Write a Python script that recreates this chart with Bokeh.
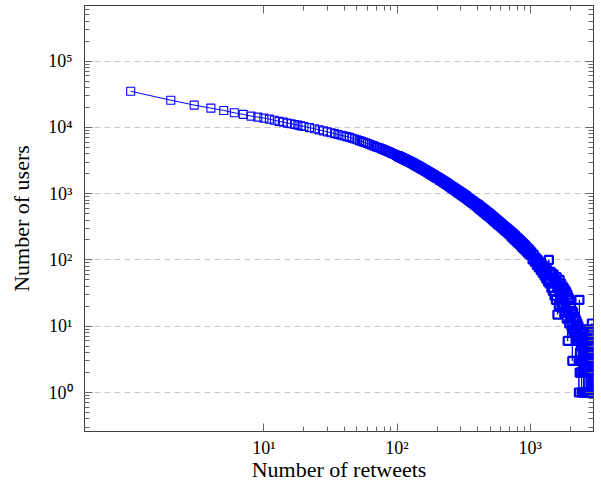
from bokeh.plotting import figure
from bokeh.models import FixedTicker, LogAxis, Range1d
from bokeh.embed import file_html
from bokeh.resources import INLINE

# ---- data (retweet count -> number of users) ----
retweets_head = [1, 2, 3, 4, 5, 6, 7, 8, 9, 10, 11, 12, 13, 14, 15, 16, 17, 18, 19, 20]
users_head = [35100, 25700, 21700, 19500, 18000, 16600, 15700, 14800, 14300, 13800,
              13300, 12800, 12300, 12000, 11600, 11350, 11070, 10800, 10540, 10330]

retweets_mid = list(range(22, 101, 2))
users_mid = [9910, 9530, 9160, 8850, 8550, 8280, 8040, 7820, 7620, 7430,
             7260, 7060, 6850, 6670, 6490, 6310, 6150, 6000, 5850, 5700,
             5560, 5420, 5300, 5180, 5070, 4980, 4890, 4780, 4680, 4570,
             4480, 4390, 4300, 4210, 4125, 4040, 3965, 3890, 3820, 3750]

retweets_b1 = list(range(102, 201, 2))
users_b1 = [3690, 3600, 3555, 3465, 3430, 3340, 3310, 3230, 3205, 3125,
            3105, 3035, 3005, 2930, 2900, 2830, 2805, 2730, 2715, 2640,
            2630, 2560, 2550, 2480, 2475, 2410, 2405, 2340, 2335, 2275,
            2270, 2205, 2205, 2140, 2140, 2085, 2085, 2025, 2025, 1970,
            1975, 1920, 1915, 1865, 1870, 1820, 1820, 1770, 1775, 1730]

retweets_b2 = list(range(204, 401, 4))
users_b2 = [1725, 1630, 1645, 1555, 1570, 1480, 1505, 1415, 1440, 1350,
            1375, 1290, 1315, 1235, 1260, 1180, 1210, 1135, 1160, 1090,
            1120, 1045, 1075, 1010, 1035, 970, 1000, 935, 965, 900,
            935, 870, 900, 840, 865, 810, 835, 780, 810, 755,
            780, 730, 760, 710, 735, 685, 710, 665, 690, 645]

retweets_b3 = list(range(406, 701, 6))
users_b3 = [675, 606, 642, 578, 614, 552, 589, 528, 565, 506,
            542, 484, 519, 466, 501, 448, 481, 430, 461, 413,
            444, 396, 426, 382, 411, 367, 396, 354, 381, 341,
            368, 331, 355, 320, 345, 308, 332, 298, 322, 289,
            311, 279, 302, 271, 292, 262, 284, 254, 275, 247]

retweets_b4 = list(range(710, 1001, 10))
users_b4 = [267, 229, 254, 216, 241, 206, 230, 197, 218, 187,
            209, 179, 200, 171, 190, 162, 181, 155, 174, 148,
            166, 142, 158, 136, 151, 129, 145, 124, 139, 120]

retweets_tail1 = [1020, 1040, 1060, 1080, 1100, 1120, 1140, 1160, 1180, 1200, 1220, 1240, 1260, 1280, 1300,
                  1320, 1340, 1360, 1380, 1400, 1420, 1440, 1460, 1480, 1500, 1520, 1540, 1560, 1580, 1600,
                  1620, 1640, 1660, 1680, 1700, 1720, 1740, 1760, 1780, 1800, 1820, 1840, 1860, 1880, 1900,
                  1910, 1920, 1940, 1960, 1980, 2000,
                  2020, 2040, 2060, 2070, 2080, 2100, 2120, 2140, 2160, 2180, 2200, 2220, 2240, 2260, 2280]
users_tail1 = [130, 102, 120, 94, 108, 84, 100, 77, 92, 70, 86, 64, 80, 58, 74,
               52, 70, 47, 100, 44, 66, 38, 62, 34, 60, 29, 47, 25, 55, 15,
               40, 21, 50, 26, 44, 19, 40, 22, 38, 16, 35, 19, 33, 13, 30,
               6, 16, 27, 11, 25, 14,
               20, 10, 17, 3, 9, 16, 8, 14, 9, 13, 7, 12, 6, 11, 7]

retweets_tail2 = list(range(2300, 2981, 10))
users_tail2 = [10, 3, 1, 6, 25, 2, 4, 7, 9, 2,
               5, 3, 8, 1, 3, 6, 9, 2, 4, 5,
               7, 1, 2, 4, 8, 2, 3, 1, 6, 2,
               2, 4, 7, 2, 1, 3, 5, 1, 2, 3,
               6, 2, 1, 2, 4, 1, 2, 3, 9, 2,
               1, 2, 3, 1, 2, 2, 7, 1, 1, 2,
               11, 2, 1, 3, 5, 2, 1, 2, 8]

# sparse (low retweet counts) and dense (high retweet counts) parts of the one series
retweets_sparse = retweets_head + retweets_mid
users_sparse = users_head + users_mid
retweets_dense = (retweets_b1 + retweets_b2 + retweets_b3 + retweets_b4 +
                  retweets_tail1 + retweets_tail2)
users_dense = users_b1 + users_b2 + users_b3 + users_b4 + users_tail1 + users_tail2
retweets = retweets_sparse + retweets_dense
users = users_sparse + users_dense

# ---- ticks ----
x_major_ticks = [10, 100, 1000]
x_major_labels = ["10\u00b9", "10\u00b2", "10\u00b3"]
x_minor_ticks = [20, 30, 40, 50, 60, 70, 80, 90, 200, 300, 400, 500, 600, 700, 800, 900, 2000]

y_major_ticks = [1, 10, 100, 1000, 10000, 100000]
y_major_labels = ["10\u2070", "10\u00b9", "10\u00b2", "10\u00b3", "10\u2074", "10\u2075"]
y_minor_ticks = [0.3, 0.4, 0.5, 0.6, 0.7, 0.8, 0.9,
                 2, 3, 4, 5, 6, 7, 8, 9,
                 20, 30, 40, 50, 60, 70, 80, 90,
                 200, 300, 400, 500, 600, 700, 800, 900,
                 2000, 3000, 4000, 5000, 6000, 7000, 8000, 9000,
                 20000, 30000, 40000, 50000, 60000, 70000, 80000, 90000,
                 200000, 300000, 400000, 500000, 600000]

FONT = "Liberation Serif"
FRAME = "#404040"
TICK = "#666666"
BLUE = "#0000ff"

p = figure(x_axis_type="log", y_axis_type="log",
           x_range=Range1d(0.45, 2985), y_range=Range1d(0.258, 6.9e5),
           frame_width=509, frame_height=426,
           min_border_left=84, min_border_right=1, min_border_top=5, min_border_bottom=10,
           output_backend="svg", toolbar_location=None)

p.background_fill_color = "white"
p.border_fill_color = "white"
p.outline_line_color = FRAME
p.outline_line_width = 1

xt = FixedTicker(ticks=x_major_ticks, minor_ticks=x_minor_ticks)
yt = FixedTicker(ticks=y_major_ticks, minor_ticks=y_minor_ticks)


def style_axis(ax, ticker):
    ax.ticker = ticker
    ax.axis_line_color = FRAME
    ax.major_tick_line_color = TICK
    ax.minor_tick_line_color = TICK
    ax.major_tick_in = 8
    ax.major_tick_out = 0
    ax.minor_tick_in = 5
    ax.minor_tick_out = 0
    ax.major_label_text_font = FONT
    ax.major_label_text_font_size = "18px"
    ax.major_label_text_color = "black"
    ax.axis_label_text_font = FONT
    ax.axis_label_text_font_size = "22px"
    ax.axis_label_text_font_style = "normal"
    ax.axis_label_text_color = "black"


xa = p.xaxis[0]
ya = p.yaxis[0]
style_axis(xa, xt)
style_axis(ya, yt)
xa.major_label_overrides = {t: l for t, l in zip(x_major_ticks, x_major_labels)}
ya.major_label_overrides = {t: l for t, l in zip(y_major_ticks, y_major_labels)}
xa.axis_label = "Number of retweets"
ya.axis_label = "Number of users"
xa.major_label_standoff = 6
xa.axis_label_standoff = -4
ya.major_label_standoff = 12
ya.axis_label_standoff = 11

top = LogAxis()
right = LogAxis()
for ax, tk in ((top, xt), (right, yt)):
    style_axis(ax, tk)
    ax.major_label_text_font_size = "1px"
    ax.major_label_text_alpha = 0
    ax.major_label_standoff = 0
p.add_layout(top, "above")
p.add_layout(right, "right")

p.xgrid.grid_line_color = None
p.ygrid.grid_line_color = "#c8c8c8"
p.ygrid.grid_line_dash = "6 4"
p.ygrid.grid_line_width = 1

p.line(retweets, users, line_color=BLUE, line_width=1)
p.scatter(retweets_sparse, users_sparse, marker="square", size=8, line_color=BLUE,
          fill_color=None, line_width=1.1)
p.scatter(retweets_dense, users_dense, marker="square", size=8, line_color=BLUE,
          fill_color=None, line_width=2.2)

open("out.html", "w").write(file_html(p, INLINE))
